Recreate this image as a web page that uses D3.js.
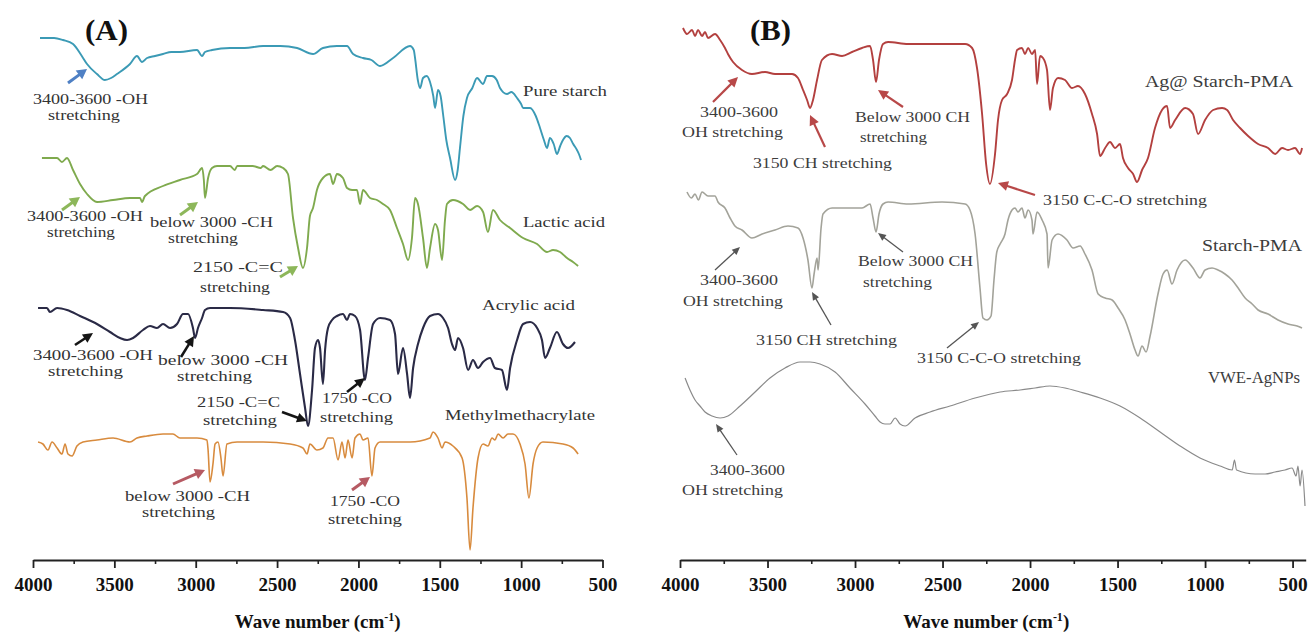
<!DOCTYPE html>
<html>
<head>
<meta charset="utf-8">
<script src="https://cdn.jsdelivr.net/npm/d3@7"></script>
<style>
  html, body { margin: 0; padding: 0; background: #fff; }
  svg text { font-family: "Liberation Serif", "Times New Roman", serif; }
</style>
</head>
<body>
<svg id="chart" width="1312" height="634"></svg>
<script>
// FTIR spectra: [wavenumber (cm-1), stacked transmittance (a.u.)]

// ---- Panel A ----
const pureStarch = [[3957,261],[3870,261],[3816,260],[3754,258],[3700,252],[3668,248],[3607,243],[3558,240],[3520,241],[3484,243],[3404,248],[3361,252],[3330,249],[3299,251],[3250,252],[3201,253],[3150,254],[3097,254],[2992,255],[2961,252],[2943,254],[2900,255],[2789,256],[2700,256],[2586,257],[2480,257],[2377,256],[2279,253],[2218,256],[2132,257],[2070,257],[2033,253],[1972,251],[1920,250],[1867,247],[1787,251],[1683,257],[1660,255],[1652,251],[1635,240],[1621,236],[1603,241],[1580,242],[1560,239],[1540,232],[1529,226],[1511,235],[1495,232],[1480,223],[1460,210],[1437,201],[1406,190],[1390,195],[1376,206],[1355,222],[1333,231],[1300,236],[1271,241],[1234,238],[1210,242],[1179,242],[1150,240],[1130,236],[1087,233],[1060,234],[1025,231],[1000,228],[988,226],[945,226],[910,222],[884,216],[860,210],[841,206],[823,211],[800,208],[780,203],[760,207],[743,210],[720,212],[700,211],[680,208],[657,205],[645,203],[632,200]];

const lacticAcid = [[3945,201],[3852,201],[3822,199],[3791,201],[3754,195],[3711,188],[3668,183],[3607,179],[3508,180],[3404,181],[3342,181],[3330,179],[3312,182],[3201,187],[3097,190],[2992,193],[2961,196],[2950,190],[2943,181],[2924,191],[2900,196],[2869,197],[2789,197],[2760,195],[2745,197],[2650,197],[2600,196],[2586,197],[2540,195],[2500,197],[2463,196],[2433,193],[2402,171],[2371,156],[2341,146],[2316,156],[2298,172],[2279,176],[2255,185],[2218,191],[2175,193],[2156,188],[2132,193],[2095,191],[2070,186],[2039,185],[2009,185],[1990,178],[1972,185],[1929,181],[1886,180],[1849,178],[1806,175],[1763,166],[1726,158],[1695,150],[1671,161],[1652,181],[1634,178],[1603,161],[1579,146],[1560,156],[1529,168],[1511,165],[1486,150],[1468,170],[1456,178],[1419,180],[1357,178],[1314,175],[1271,177],[1234,174],[1204,164],[1173,175],[1130,170],[1068,166],[988,161],[902,158],[841,154],[804,155],[761,154],[718,151],[681,149],[650,147]];

const acrylicAcid = [[3969,126],[3914,126],[3896,124],[3852,126],[3791,125],[3711,122],[3607,118],[3527,114],[3465,111],[3422,110],[3385,111],[3324,115],[3281,117],[3238,116],[3201,118],[3158,116],[3115,118],[3078,123],[3047,123],[3017,116],[3004,111],[2986,116],[2961,121],[2943,125],[2912,126],[2789,126],[2586,125],[2463,124],[2420,121],[2390,110],[2359,93],[2328,76],[2310,67],[2285,85],[2267,106],[2248,110],[2236,106],[2218,88],[2205,105],[2187,116],[2162,120],[2132,122],[2095,123],[2070,120],[2052,123],[2021,122],[1990,115],[1960,90],[1941,101],[1910,118],[1867,121],[1806,120],[1775,113],[1757,93],[1726,106],[1701,93],[1683,81],[1664,96],[1634,108],[1603,116],[1560,122],[1511,123],[1480,121],[1449,116],[1425,108],[1406,105],[1388,111],[1357,106],[1326,95],[1296,100],[1265,96],[1234,99],[1191,101],[1161,96],[1118,95],[1087,85],[1068,96],[1025,110],[988,118],[945,119],[902,116],[872,110],[853,101],[823,106],[780,114],[743,108],[712,106],[669,109]];

const methylMethacrylate = [[3969,59],[3939,58],[3908,55],[3883,59],[3852,56],[3822,53],[3803,58],[3785,53],[3760,52],[3730,57],[3693,59],[3607,60],[3508,61],[3404,59],[3361,61],[3299,62],[3201,63],[3140,63],[3097,61],[2992,61],[2931,60],[2924,55],[2912,39],[2894,48],[2881,58],[2863,59],[2845,51],[2832,42],[2808,58],[2746,59],[2586,59],[2420,58],[2341,56],[2316,53],[2298,58],[2255,55],[2218,56],[2187,61],[2156,61],[2125,50],[2101,59],[2082,51],[2064,60],[2039,51],[2021,61],[1990,63],[1972,60],[1941,61],[1917,42],[1898,56],[1867,59],[1763,59],[1683,59],[1560,61],[1542,64],[1511,61],[1486,56],[1468,59],[1419,57],[1363,51],[1333,31],[1314,5],[1296,26],[1265,51],[1234,58],[1204,57],[1179,61],[1161,60],[1142,63],[1111,61],[1081,63],[1050,63],[1007,58],[976,48],[952,31],[927,48],[902,56],[866,59],[743,58],[681,56],[650,53]];

// ---- Panel B ----
const agStarchPMA = [[3983,266],[3960,263],[3931,265],[3914,262],[3897,265],[3874,262],[3857,264],[3840,261],[3800,263],[3771,260],[3743,256],[3726,253],[3697,249],[3646,245],[3589,243],[3514,244],[3457,243],[3360,243],[3326,241],[3297,235],[3274,230],[3257,226],[3240,230],[3217,240],[3189,250],[3131,253],[3074,252],[3017,254],[2960,256],[2914,257],[2897,250],[2880,239],[2863,250],[2840,258],[2811,259],[2697,258],[2503,258],[2371,258],[2331,256],[2303,246],[2274,223],[2251,198],[2229,188],[2200,203],[2183,220],[2160,230],[2131,233],[2103,240],[2086,250],[2074,255],[2046,256],[2029,253],[2011,256],[1989,253],[1971,255],[1960,238],[1943,252],[1926,251],[1903,245],[1886,225],[1869,236],[1840,241],[1800,240],[1760,236],[1726,237],[1686,233],[1646,223],[1617,213],[1600,202],[1571,206],[1543,209],[1514,206],[1486,208],[1469,201],[1440,196],[1411,193],[1389,189],[1360,195],[1326,201],[1286,216],[1246,225],[1217,227],[1200,216],[1171,220],[1114,226],[1069,223],[1040,213],[1000,220],[954,225],[903,226],[874,225],[840,220],[800,216],[754,212],[697,208],[640,206],[600,203],[560,206],[526,205],[486,206],[457,203],[446,206]];

const starchPMA = [[3960,184],[3935,181],[3914,183],[3895,180],[3874,184],[3840,182],[3800,182],[3783,179],[3743,176],[3714,171],[3686,167],[3646,165],[3589,161],[3531,163],[3457,165],[3383,167],[3326,166],[3297,161],[3269,150],[3246,136],[3234,143],[3217,151],[3211,145],[3194,166],[3183,173],[3131,176],[3040,176],[2960,176],[2914,178],[2897,171],[2880,164],[2863,173],[2840,178],[2811,179],[2697,178],[2503,179],[2371,178],[2343,175],[2314,163],[2286,136],[2269,121],[2246,120],[2223,122],[2206,140],[2190,154],[2171,158],[2143,163],[2126,170],[2103,175],[2086,176],[2069,174],[2046,176],[2029,171],[2011,175],[1989,170],[1983,163],[1960,174],[1931,170],[1903,163],[1897,146],[1874,160],[1840,163],[1789,160],[1754,156],[1714,157],[1686,153],[1646,145],[1611,133],[1571,131],[1531,130],[1497,126],[1457,120],[1429,113],[1400,105],[1383,102],[1360,107],[1337,104],[1314,112],[1269,133],[1240,143],[1217,145],[1189,138],[1160,145],[1114,150],[1069,146],[1029,141],[1000,145],[960,146],[926,145],[886,143],[846,140],[811,136],[771,131],[731,128],[697,125],[640,123],[583,120],[526,118],[474,117],[446,116]];

const vweAgNPs = [[3971,91],[3943,85],[3914,80],[3886,77],[3857,74],[3817,72],[3771,71],[3726,72],[3657,77],[3571,84],[3486,91],[3400,96],[3314,99],[3257,99],[3200,98],[3114,94],[3029,86],[2943,78],[2886,72],[2857,69],[2829,68],[2800,68],[2771,71],[2743,68],[2714,67],[2657,71],[2571,74],[2457,77],[2314,81],[2171,84],[2057,85],[1971,86],[1886,87],[1800,86],[1714,84],[1600,81],[1486,77],[1371,71],[1257,64],[1143,57],[1029,51],[914,47],[845,45],[832,50],[820,45],[714,43],[657,43],[600,44],[543,45],[503,46],[480,42],[469,47],[457,37],[446,45],[429,27]];

// ---- Axis ticks ----
const majorTicks = [4000, 3500, 3000, 2500, 2000, 1500, 1000, 500];
const minorTicks = [3750, 3250, 2750, 2250, 1750, 1250, 750];
const panelLabels = ["(A)", "(B)"];

const svg = d3.select("#chart");
const y = d3.scaleLinear().domain([0, 270]).range([560, 20]);

const panels = [
  {
    label: panelLabels[0], labelX: 85, labelW: 43,
    x: d3.scaleLinear().domain([4000, 500]).range([33, 602.5]),
    series: [
      { data: pureStarch, color: "#3b9ab5", width: 1.9 },
      { data: lacticAcid, color: "#7faa4e", width: 1.9 },
      { data: acrylicAcid, color: "#2a2a46", width: 2.1 },
      { data: methylMethacrylate, color: "#d88b3e", width: 1.6 }
    ]
  },
  {
    label: panelLabels[1], labelX: 750, labelW: 41,
    x: d3.scaleLinear().domain([4000, 425]).range([680, 1305.7]),
    series: [
      { data: agStarchPMA, color: "#b3403f", width: 1.9 },
      { data: starchPMA, color: "#a3a39a", width: 1.6 },
      { data: vweAgNPs, color: "#8a8a8a", width: 1.2 }
    ]
  }
];

panels.forEach(p => {
  const g = svg.append("g");
  const line = d3.line().x(d => p.x(d[0])).y(d => y(d[1])).curve(d3.curveMonotoneX);
  p.series.forEach(s => {
    g.append("path").datum(s.data)
      .attr("d", line)
      .attr("fill", "none")
      .attr("stroke", s.color)
      .attr("stroke-width", s.width)
      .attr("stroke-linejoin", "round");
  });

  // minor ticks
  const minor = g.append("g").attr("transform", "translate(0,560)")
    .call(d3.axisBottom(p.x).tickValues(minorTicks).tickSize(4).tickSizeOuter(0).tickFormat(""));
  minor.select(".domain").remove();
  minor.selectAll("line").attr("stroke", "#222").attr("stroke-width", 1.6);

  // major ticks and labels
  const ax = g.append("g").attr("transform", "translate(0,560)")
    .call(d3.axisBottom(p.x).tickValues(majorTicks).tickSize(8).tickSizeOuter(0).tickFormat(d3.format("d")));
  ax.select(".domain").attr("stroke", "#222").attr("stroke-width", 2);
  ax.selectAll("line").attr("stroke", "#222").attr("stroke-width", 1.8);
  ax.selectAll("text")
    .attr("font-family", "Liberation Serif, Times New Roman, serif")
    .attr("font-size", 18).attr("font-weight", "bold").attr("fill", "#111")
    .attr("y", 18).attr("dy", "0.71em")
    .attr("textLength", d => d >= 1000 ? 38 : 29).attr("lengthAdjust", "spacingAndGlyphs");

  // axis title
  const cx = (p.x(4000) + p.x(500)) / 2;
  const t = g.append("text").attr("x", cx).attr("y", 628)
    .attr("text-anchor", "middle").attr("font-size", 19).attr("font-weight", "bold").attr("fill", "#111");
  t.append("tspan").text("Wave number (cm");
  t.append("tspan").attr("font-size", 12).attr("dy", -7).text("-1");
  t.append("tspan").attr("dy", 7).text(")");

  // panel letter
  g.append("text").attr("x", p.labelX).attr("y", 40)
    .attr("font-size", 30).attr("font-weight", "bold").attr("fill", "#111")
    .attr("textLength", p.labelW).attr("lengthAdjust", "spacingAndGlyphs")
    .text(p.label);
});

// ---- Annotations: [text, left x, baseline y, width, font size, colour] ----
const textColorA = "#333";
const textColorB = "#3c3c3c";
const notes = [
  // panel A
  ["Pure starch", 523, 96, 84, 15, textColorA],
  ["3400-3600 -OH", 33, 104, 115, 14.5, textColorA],
  ["stretching", 48, 120, 72, 14.5, textColorA],
  ["Lactic acid", 523, 227, 82, 15, textColorA],
  ["3400-3600 -OH", 27, 221, 116, 14.5, textColorA],
  ["stretching", 47, 237, 68, 14.5, textColorA],
  ["below 3000 -CH", 150, 227, 123, 14.5, textColorA],
  ["stretching", 168, 243, 70, 14.5, textColorA],
  ["2150 -C=C", 193, 272, 90, 14.5, textColorA],
  ["stretching", 200, 292, 70, 14.5, textColorA],
  ["Acrylic acid", 482, 310, 93, 15, textColorA],
  ["3400-3600 -OH", 33, 360, 120, 14.5, textColorA],
  ["stretching", 48, 376, 75, 14.5, textColorA],
  ["below 3000 -CH", 158, 365, 130, 14.5, textColorA],
  ["stretching", 177, 381, 75, 14.5, textColorA],
  ["2150 -C=C", 197, 407, 83, 14.5, textColorA],
  ["stretching", 203, 425, 74, 14.5, textColorA],
  ["1750 -CO", 322, 403, 70, 14.5, textColorA],
  ["stretching", 320, 422, 73, 14.5, textColorA],
  ["Methylmethacrylate", 445, 420, 150, 15, textColorA],
  ["below 3000 -CH", 125, 501, 125, 14.5, textColorA],
  ["stretching", 142, 517, 73, 14.5, textColorA],
  ["1750 -CO", 330, 506, 70, 14.5, textColorA],
  ["stretching", 328, 524, 74, 14.5, textColorA],
  // panel B
  ["Ag@ Starch-PMA", 1145, 87, 148, 16, textColorB],
  ["3400-3600", 700, 117, 78, 15, textColorB],
  ["OH stretching", 682, 137, 101, 15, textColorB],
  ["3150 CH stretching", 753, 168, 139, 15, textColorB],
  ["Below 3000 CH", 855, 122, 115, 15, textColorB],
  ["stretching", 860, 142, 67, 15, textColorB],
  ["3150 C-C-O stretching", 1043, 205, 164, 15, textColorB],
  ["Starch-PMA", 1202, 251, 100, 16, textColorB],
  ["3400-3600", 700, 285, 78, 15, textColorB],
  ["OH stretching", 683, 306, 100, 15, textColorB],
  ["Below 3000 CH", 858, 266, 115, 15, textColorB],
  ["stretching", 863, 287, 69, 15, textColorB],
  ["3150 CH stretching", 756, 345, 141, 15, textColorB],
  ["3150 C-C-O stretching", 917, 363, 164, 15, textColorB],
  ["VWE-AgNPs", 1208, 383, 92, 16, textColorB],
  ["3400-3600", 710, 475, 75, 15, textColorB],
  ["OH stretching", 682, 495, 101, 15, textColorB]
];

const notesG = svg.append("g");
notes.forEach(([txt, x, yb, w, fs, col]) => {
  notesG.append("text").attr("x", x).attr("y", yb)
    .attr("font-size", fs).attr("fill", col)
    .attr("textLength", w).attr("lengthAdjust", "spacingAndGlyphs")
    .text(txt);
});

// ---- Arrows: [x1, y1, x2 (tip), y2 (tip), colour, stroke width, head length, head half-width] ----
const arrows = [
  [68, 83, 87, 69, "#4f80c4", 3, 10, 5.5],
  [62, 210, 80, 197, "#8db75a", 3, 10, 5.5],
  [180, 215, 198, 202, "#8db75a", 3, 10, 5.5],
  [280, 277, 298, 266, "#8db75a", 3, 10, 5.5],
  [75, 345, 93, 333, "#151515", 2.6, 10, 5],
  [181, 357, 194, 336, "#151515", 2.6, 10, 5],
  [282, 412, 307, 421, "#151515", 2.6, 10, 5],
  [347, 392, 365, 378, "#151515", 2.6, 10, 5],
  [173, 484, 205, 470, "#b65a63", 3, 10, 5.5],
  [352, 490, 370, 477, "#b65a63", 3, 10, 5.5],
  [713, 102, 738, 77, "#b84848", 2.2, 10, 5],
  [825, 147, 810, 115, "#b84848", 2.2, 10, 5],
  [903, 107, 878, 90, "#b84848", 2.2, 10, 5],
  [1035, 195, 998, 183, "#b84848", 2.2, 10, 5],
  [715, 270, 740, 247, "#555", 1.3, 8, 3.5],
  [903, 252, 878, 233, "#555", 1.3, 8, 3.5],
  [831, 325, 812, 292, "#555", 1.3, 8, 3.5],
  [947, 348, 979, 322, "#555", 1.3, 8, 3.5],
  [737, 455, 716, 424, "#555", 1.3, 8, 3.5]
];

const arrowG = svg.append("g");
arrows.forEach(([x1, y1, x2, y2, col, sw, hl, hw]) => {
  const dx = x2 - x1, dy = y2 - y1, len = Math.hypot(dx, dy);
  const ux = dx / len, uy = dy / len;
  const bx = x2 - ux * hl, by = y2 - uy * hl;
  arrowG.append("line").attr("x1", x1).attr("y1", y1).attr("x2", bx + ux).attr("y2", by + uy)
    .attr("stroke", col).attr("stroke-width", sw);
  arrowG.append("path")
    .attr("d", `M${x2},${y2}L${bx - uy * hw},${by + ux * hw}L${bx + uy * hw},${by - ux * hw}Z`)
    .attr("fill", col);
});
</script>
</body>
</html>
